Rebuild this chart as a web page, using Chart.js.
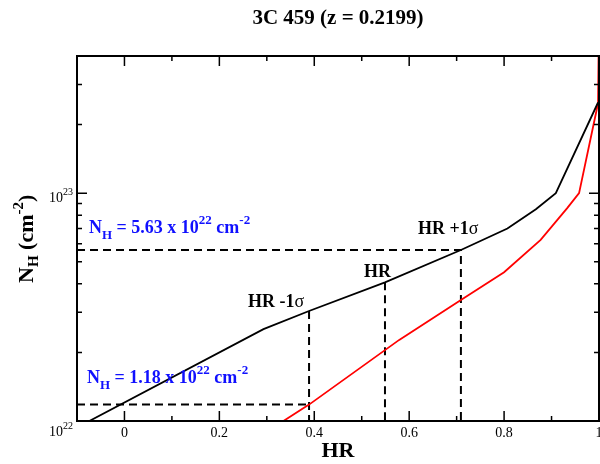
<!DOCTYPE html>
<html>
<head>
<meta charset="utf-8">
<script src="https://cdn.jsdelivr.net/npm/chart.js@4.4.1/dist/chart.umd.min.js"></script>
<style>
  html, body { margin: 0; padding: 0; background: #fff; }
  canvas { display: block; }
</style>
</head>
<body>
<canvas id="nhChart" width="600" height="464"></canvas>
<script>
// HR -> N_H conversion curves (black and red models)
const blackHR = [-0.074, 0.293, 0.389, 0.549, 0.709, 0.807, 0.867, 0.909, 0.998];
const blackNH = [1.0e22, 2.53e22, 3.04e22, 4.06e22, 5.63e22, 7.0e22, 8.5e22, 1.0e23, 2.5e23];
const redHR = [0.335, 0.389, 0.579, 0.709, 0.80, 0.877, 0.933, 0.958, 0.998, 1.0];
const redNH = [1.0e22, 1.18e22, 2.27e22, 3.4e22, 4.5e22, 6.24e22, 8.6e22, 1.0e23, 2.48e23, 6e23];

// measured hardness ratio with its 1-sigma bounds
const hrValues = [0.389, 0.549, 0.709];
const hrCurveNH = [3.04e22, 4.06e22, 5.63e22];
const hrLabels = ['HR -1', 'HR', 'HR +1'];
const nhLow = 1.18e22;
const nhHigh = 5.63e22;
const nhLowText = '1.18';
const nhHighText = '5.63';

// axis ranges and ticks
const xMin = -0.1, xMax = 1.0;
const yMin = 1e22, yMax = 4e23;
const xMajor = [0, 0.2, 0.4, 0.6, 0.8, 1.0];
const xMajorLabels = ['0', '0.2', '0.4', '0.6', '0.8', '1'];
const xMinor = [0.1, 0.3, 0.5, 0.7, 0.9];
const yMajor = [1e22, 1e23];
const yMajorExp = ['22', '23'];
const yMinor = [2e22, 3e22, 4e22, 5e22, 6e22, 7e22, 8e22, 9e22, 2e23, 3e23];

const SERIF = '"Liberation Serif", "Times New Roman", serif';

function pts(xs, ys) {
  return xs.map((x, i) => ({ x: x, y: ys[i] }));
}

// draw a run of text pieces with sub/superscripts, returns end x
function drawRich(ctx, x, y, parts, color) {
  ctx.fillStyle = color;
  ctx.textBaseline = 'alphabetic';
  ctx.textAlign = 'left';
  parts.forEach(p => {
    ctx.font = (p.bold === false ? '' : 'bold ') + p.size + 'px ' + SERIF;
    ctx.fillText(p.t, x, y + (p.dy || 0));
    x += ctx.measureText(p.t).width;
  });
  return x;
}

function nhParts(val) {
  return [
    { t: 'N', size: 18 },
    { t: 'H', size: 13, dy: 6 },
    { t: ' = ' + val + ' x 10', size: 18 },
    { t: '22', size: 13, dy: -9 },
    { t: ' cm', size: 18 },
    { t: '-2', size: 13, dy: -9 }
  ];
}

const framePlugin = {
  id: 'frame',
  afterDraw(chart) {
    const ctx = chart.ctx;
    const a = chart.chartArea;
    const xs = chart.scales.x, ys = chart.scales.y;
    ctx.save();

    // ticks on all four sides, pointing inward
    ctx.strokeStyle = '#000';
    ctx.lineWidth = 1.5;
    const tick = (px, len, horizontal) => {
      ctx.beginPath();
      if (horizontal) {
        ctx.moveTo(px, a.bottom); ctx.lineTo(px, a.bottom - len);
        ctx.moveTo(px, a.top); ctx.lineTo(px, a.top + len);
      } else {
        ctx.moveTo(a.left, px); ctx.lineTo(a.left + len, px);
        ctx.moveTo(a.right, px); ctx.lineTo(a.right - len, px);
      }
      ctx.stroke();
    };
    xMajor.forEach(v => tick(xs.getPixelForValue(v), 10, true));
    xMinor.forEach(v => tick(xs.getPixelForValue(v), 5, true));
    yMajor.forEach(v => tick(ys.getPixelForValue(v), 10, false));
    yMinor.forEach(v => tick(ys.getPixelForValue(v), 5, false));

    // frame
    ctx.lineWidth = 2;
    ctx.strokeRect(a.left, a.top, a.right - a.left, a.bottom - a.top);

    // x tick labels
    ctx.fillStyle = '#000';
    ctx.font = '14px ' + SERIF;
    ctx.textAlign = 'center';
    ctx.textBaseline = 'alphabetic';
    xMajor.forEach((v, i) => {
      ctx.fillText(xMajorLabels[i], xs.getPixelForValue(v), a.bottom + 16);
    });

    // y tick labels 10^n
    const yOff = [15, 9];
    yMajor.forEach((v, i) => {
      const py = ys.getPixelForValue(v);
      ctx.font = '14px ' + SERIF;
      const w10 = ctx.measureText('10').width;
      ctx.font = '10px ' + SERIF;
      const wExp = ctx.measureText(yMajorExp[i]).width;
      const x0 = a.left - 4 - wExp - w10;
      drawRich(ctx, x0, py + yOff[i], [
        { t: '10', size: 14, bold: false },
        { t: yMajorExp[i], size: 10, bold: false, dy: -7 }
      ], '#000');
    });

    // title
    ctx.font = 'bold 21px ' + SERIF;
    ctx.textAlign = 'center';
    ctx.fillText('3C 459 (z = 0.2199)', (a.left + a.right) / 2, 24);

    // x axis title
    ctx.font = 'bold 22px ' + SERIF;
    ctx.fillText('HR', (a.left + a.right) / 2, 457);

    // y axis title, rotated
    ctx.save();
    ctx.translate(33, 283);
    ctx.rotate(-Math.PI / 2);
    drawRich(ctx, 0, 0, [
      { t: 'N', size: 22 },
      { t: 'H', size: 15, dy: 5 },
      { t: ' (cm', size: 22 },
      { t: '-2', size: 15, dy: -10 },
      { t: ')', size: 22 }
    ], '#000');
    ctx.restore();

    // HR markers
    const labelPos = [[248, 307], [364, 277], [418, 234]];
    hrLabels.forEach((t, i) => {
      const parts = [{ t: t, size: 18 }];
      if (i !== 1) parts.push({ t: 'σ', size: 18, bold: false });
      drawRich(ctx, labelPos[i][0], labelPos[i][1], parts, '#000');
    });

    // N_H values
    drawRich(ctx, 89, 233, nhParts(nhHighText), '#1010ff');
    drawRich(ctx, 87, 383, nhParts(nhLowText), '#1010ff');

    ctx.restore();
  }
};

const dashStyle = {
  borderColor: '#000',
  borderWidth: 2,
  borderDash: [8, 5],
  pointRadius: 0,
  showLine: true,
  fill: false
};

new Chart(document.getElementById('nhChart'), {
  type: 'scatter',
  data: {
    datasets: [
      {
        label: 'black',
        data: pts(blackHR, blackNH),
        borderColor: '#000',
        borderWidth: 1.8,
        pointRadius: 0,
        showLine: true
      },
      {
        label: 'red',
        data: pts(redHR, redNH),
        borderColor: '#ff0000',
        borderWidth: 1.8,
        pointRadius: 0,
        showLine: true
      },
      // upper N_H: from HR +1 sigma on the black curve
      Object.assign({ data: [
        { x: xMin, y: nhHigh }, { x: hrValues[2], y: nhHigh }, { x: hrValues[2], y: yMin }
      ] }, dashStyle),
      // lower N_H: from HR -1 sigma on the red curve
      Object.assign({ data: [
        { x: xMin, y: nhLow }, { x: hrValues[0], y: nhLow }
      ] }, dashStyle),
      Object.assign({ data: [
        { x: hrValues[0], y: hrCurveNH[0] }, { x: hrValues[0], y: yMin }
      ] }, dashStyle),
      Object.assign({ data: [
        { x: hrValues[1], y: hrCurveNH[1] }, { x: hrValues[1], y: yMin }
      ] }, dashStyle)
    ]
  },
  options: {
    responsive: false,
    animation: false,
    devicePixelRatio: 1,
    layout: { padding: { top: 56, right: 1, left: 0, bottom: 0 } },
    plugins: {
      legend: { display: false },
      tooltip: { enabled: false },
      title: { display: false }
    },
    scales: {
      x: {
        type: 'linear',
        min: xMin,
        max: xMax,
        ticks: { display: false },
        grid: { display: false },
        border: { display: false },
        afterFit: s => { s.height = 43; }
      },
      y: {
        type: 'logarithmic',
        min: yMin,
        max: yMax,
        ticks: { display: false },
        grid: { display: false },
        border: { display: false },
        afterFit: s => { s.width = 77; }
      }
    }
  },
  plugins: [framePlugin]
});
</script>
</body>
</html>
